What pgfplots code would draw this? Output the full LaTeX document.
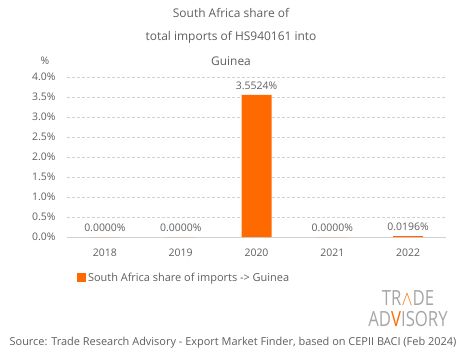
\documentclass[border=0pt]{standalone}
\usepackage{pgfplots}
\pgfplotsset{compat=1.18}
\usepackage{fontspec}
\setmainfont{Open Sans}
\definecolor{barc}{HTML}{FF6A00}
\definecolor{txt}{HTML}{5E5E5E}
\definecolor{gridc}{HTML}{D0D0D0}
\definecolor{logo}{HTML}{A6A6A6}
\begin{document}
\begin{tikzpicture}[x=1bp,y=1bp]
\useasboundingbox (0,0) rectangle (465,359);
\begin{axis}[
  at={(67bp,122bp)}, anchor=south west,
  scale only axis, width=379bp, height=160bp,
  xmin=-0.5, xmax=4.5, ymin=0, ymax=4,
  axis line style={draw=none},
  xtick={0,1,2,3,4},
  xticklabels={2018,2019,2020,2021,2022},
  ytick={0,0.5,1,1.5,2,2.5,3,3.5,4},
  yticklabel={\pgfmathprintnumber[fixed,fixed zerofill,precision=1]{\tick}\%},
  /pgf/number format/assume math mode=true,
  major tick length=0pt,
  ymajorgrids, grid style={gridc, dash pattern=on 3bp off 2bp, line width=0.6bp},
  ticklabel style={font=\fontsize{10.5}{12}\selectfont, text=txt},
  yticklabel style={xshift=-8bp},
  xticklabel style={yshift=-8bp},
  ybar, bar width=30bp,
  nodes near coords={\pgfmathprintnumber[fixed,fixed zerofill,precision=4]{\pgfplotspointmeta}\%},
  nodes near coords style={font=\fontsize{10.5}{12}\selectfont, text=txt, yshift=2bp},
  legend style={at={(0.026,-0.256)}, anchor=west, draw=none, fill=none,
    font=\fontsize{11}{13}\selectfont, text=txt, inner sep=0pt},
  legend image code/.code={\fill[barc] (0bp,-4.5bp) rectangle (9bp,4.5bp);},
  extra y ticks={0}, extra y tick labels={},
  extra y tick style={grid style={solid, gridc, line width=0.8bp}},
]
\addplot[fill=barc, draw=none] coordinates {(0,0) (1,0) (2,3.5524) (3,0) (4,0.0196)};
\addlegendentry{South Africa share of imports -> Guinea}
\end{axis}
\node[text=txt, font=\fontsize{12}{14}\selectfont] at (231,346) {South Africa share of};
\node[text=txt, font=\fontsize{12}{14}\selectfont] at (231,322) {total imports of HS940161 into};
\node[text=txt, font=\fontsize{12}{14}\selectfont] at (231,298) {Guinea};
\node[text=txt, font=\fontsize{10.5}{12}\selectfont] at (45,298) {\%};
\node[text=txt, font=\fontsize{11}{13}\selectfont] at (233,16) {Source: Trade Research Advisory - Export Market Finder, based on CEPII BACI (Feb 2024)};
\node[text=logo, font=\fontsize{21}{21}\selectfont, xscale=0.8, align=center, inner sep=0pt] at (408,50) {TR\textcolor{barc}{$\wedge$}DE\\AD\textcolor{barc}{V}ISORY};
\end{tikzpicture}
\end{document}
